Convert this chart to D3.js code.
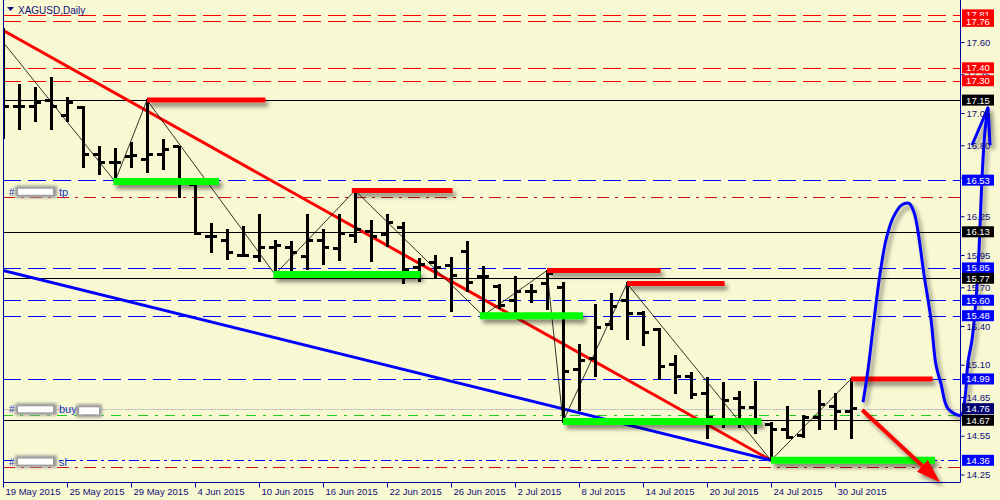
<!DOCTYPE html>
<html><head><meta charset="utf-8">
<script src="https://cdn.jsdelivr.net/npm/d3@7"></script>
<style>html,body{margin:0;padding:0;background:#f8f8d2;}svg{display:block;}</style>
</head><body>
<svg id="c" width="1000" height="500"></svg>
<script>
// ---------------- DATA ----------------
const dates = ["19 May 2015","20 May 2015","21 May 2015","22 May 2015","25 May 2015","26 May 2015","27 May 2015","28 May 2015","29 May 2015",
"1 Jun 2015","2 Jun 2015","3 Jun 2015","4 Jun 2015","5 Jun 2015","8 Jun 2015","9 Jun 2015","10 Jun 2015","11 Jun 2015","12 Jun 2015","15 Jun 2015","16 Jun 2015","17 Jun 2015","18 Jun 2015","19 Jun 2015","22 Jun 2015","23 Jun 2015","24 Jun 2015","25 Jun 2015","26 Jun 2015","29 Jun 2015","30 Jun 2015",
"1 Jul 2015","2 Jul 2015","3 Jul 2015","6 Jul 2015","7 Jul 2015","8 Jul 2015","9 Jul 2015","10 Jul 2015","13 Jul 2015","14 Jul 2015","15 Jul 2015","16 Jul 2015","17 Jul 2015","20 Jul 2015","21 Jul 2015","22 Jul 2015","23 Jul 2015","24 Jul 2015","27 Jul 2015","28 Jul 2015","29 Jul 2015","30 Jul 2015","31 Jul 2015"];
const open  = [17.11,17.10,17.10,17.15,17.03,17.09,16.73,16.67,16.71,16.69,16.73,16.79,16.50,16.09,16.06,15.95,15.94,16.01,16.01,15.94,16.06,16.00,16.10,16.13,16.11,16.16,15.85,15.89,15.87,15.98,15.78,15.71,15.60,15.67,15.73,15.70,15.06,15.15,15.41,15.60,15.50,15.37,15.10,15.01,14.88,14.66,14.84,14.77,14.64,14.60,14.55,14.69,14.78,14.74];
const high  = [17.70,17.27,17.24,17.32,17.17,17.10,16.79,16.77,16.82,17.15,16.84,16.79,16.51,16.19,16.14,16.17,16.26,16.06,16.05,16.26,16.14,16.26,16.45,16.21,16.26,16.20,15.92,15.94,15.93,16.05,15.86,15.72,15.78,15.72,15.83,15.73,15.25,15.56,15.65,15.73,15.51,15.38,15.17,15.04,15.00,14.96,14.89,14.97,14.65,14.77,14.70,14.90,14.87,14.99];
const low   = [16.86,16.93,16.99,16.93,16.99,16.63,16.58,16.52,16.63,16.59,16.62,16.40,16.11,15.97,15.92,15.94,15.90,15.80,15.83,15.84,15.88,15.91,16.05,15.90,16.02,15.73,15.75,15.77,15.52,15.67,15.48,15.54,15.48,15.59,15.53,14.66,14.75,15.01,15.38,15.30,15.25,14.99,14.88,14.84,14.53,14.62,14.62,14.57,14.36,14.53,14.54,14.60,14.60,14.53];
const close = [17.10,17.10,17.13,17.10,17.13,16.73,16.67,16.67,16.72,16.73,16.77,16.51,16.12,16.09,15.97,15.95,16.01,16.02,15.97,16.06,16.01,16.12,16.15,16.09,16.20,15.84,15.88,15.85,15.79,15.74,15.78,15.56,15.67,15.67,15.81,15.05,15.13,15.39,15.55,15.50,15.35,15.09,15.01,14.87,14.69,14.82,14.77,14.65,14.60,14.54,14.69,14.79,14.74,14.76];

const priceTicks = [17.60,17.35,17.05,16.80,16.55,16.25,15.95,15.70,15.40,15.10,14.85,14.55,14.25];
const dateTickIdx = [0,4,8,12,16,20,24,28,32,36,40,44,48,52];

const redDashLevels  = [17.81,17.76,17.40,17.30];
const blackLevels    = [17.15,16.13,15.77,14.67];
const blueDashLevels = [16.53,15.85,15.60,15.48,14.99];
const bidLevel = 14.76;
const slLevel = 14.36;
const tpLevel = 16.40;
const buyLevel = 14.71;
const stopRedLevel = 14.31;

// zigzag: [bar index, price]
const zigIdx   = [0,7,9,17,22,30,34,35,39,48,53];
const zigPrice = [17.60,16.52,17.15,15.80,16.45,15.48,15.83,14.66,15.73,14.36,14.99];

// resistance (red) and support (green) marks: start idx, end idx, price
const resStart = [9,21.8,34,39,53];
const resEnd   = [16.4,28.1,41.1,45.1,58.1];
const resPrice = [17.15,16.45,15.83,15.73,14.99];
const supStart = [6.9,16.9,29.8,35,48];
const supEnd   = [13.5,26.1,36.25,47.4,58.25];
const supPrice = [16.52,15.80,15.48,14.66,14.36];

// trend lines
const redTrendIdx = [0,48], redTrendPrice = [17.69,14.36];
const blueTrendIdx = [0,48], blueTrendPrice = [15.83,14.36];
const arrowIdx = [53.7,58.56], arrowPrice = [14.75,14.19];

// hand-drawn blue scribble
const drawIdx   = [53.75,54.06,54.44,54.81,55.19,55.63,56.19,56.63,56.94,57.19,57.56,58.0,58.31,58.63,59.06,59.88,60.13,60.31,60.56,60.81,61.0,61.13,61.25,61.38,61.56];
const drawPrice = [14.81,15.06,15.45,15.80,16.07,16.24,16.34,16.35,16.28,16.13,15.80,15.45,15.10,14.95,14.76,14.71,14.85,15.12,15.29,15.60,15.99,16.38,16.69,16.92,17.09];
const tipIdx   = [60.56,61.56,61.69];
const tipPrice = [16.80,17.09,16.80];

// ---------------- DRAW ----------------
const svg = d3.select("#c");
const W = 1000, H = 500;
const NAVY = "#10107a";
const FONT = "Liberation Sans, Arial, sans-serif";
const xs = d3.scaleLinear().domain([0,53]).range([3,851]);
const ys = d3.scaleLinear().domain([14.25,17.60]).range([474.5,42]);
const plotR = 960, plotB = 482, plotL = 3;

svg.append("rect").attr("width",W).attr("height",H).attr("fill","#f8f8d2");

const defs = svg.append("defs");
const f = defs.append("filter").attr("id","sh").attr("filterUnits","userSpaceOnUse")
  .attr("x",0).attr("y",0).attr("width",W).attr("height",H);
f.append("feDropShadow").attr("dx",3).attr("dy",4).attr("stdDeviation",2)
  .attr("flood-color","#000").attr("flood-opacity",0.45);
const fb = defs.append("filter").attr("id","blur").attr("filterUnits","userSpaceOnUse")
  .attr("x",0).attr("y",0).attr("width",W).attr("height",H);
fb.append("feGaussianBlur").attr("stdDeviation",1.6);

const clip = defs.append("clipPath").attr("id","plot");
clip.append("rect").attr("x",plotL).attr("y",0).attr("width",plotR-plotL).attr("height",plotB);

const gp = svg.append("g").attr("clip-path","url(#plot)");

function hline(p, color, dash, w){
  gp.append("line").attr("x1",plotL).attr("x2",plotR).attr("y1",Math.round(ys(p))+0.5).attr("y2",Math.round(ys(p))+0.5)
    .attr("stroke",color).attr("stroke-width",w||1).attr("stroke-dasharray",dash||null);
}
redDashLevels.forEach(p=>hline(p,"#ff0000","18,7"));
blueDashLevels.forEach(p=>hline(p,"#0000ff","18,7"));
blackLevels.forEach(p=>hline(p,"#000000"));
hline(bidLevel,"#c8c8c8");
hline(tpLevel,"#d01010","12,6,3,6");
hline(buyLevel,"#22cc22","10,7,3,7");
hline(slLevel,"#0000ff","10,4,3,4");
hline(stopRedLevel,"#d01010","12,6,3,6");

// support / resistance marks with shadow
const gs = svg.append("g").attr("filter","url(#sh)");
supPrice.forEach((p,i)=>{
  gs.append("line").attr("x1",xs(supStart[i])).attr("x2",xs(supEnd[i])).attr("y1",ys(p)).attr("y2",ys(p))
    .attr("stroke","#00ff00").attr("stroke-width",7);
});
resPrice.forEach((p,i)=>{
  gs.append("line").attr("x1",xs(resStart[i])).attr("x2",xs(resEnd[i])).attr("y1",ys(p)).attr("y2",ys(p))
    .attr("stroke","#ff0000").attr("stroke-width",5);
});

// trend lines
const gt = gp.append("g");
gt.append("line").attr("x1",xs(redTrendIdx[0])).attr("y1",ys(redTrendPrice[0])).attr("x2",xs(redTrendIdx[1])).attr("y2",ys(redTrendPrice[1]))
  .attr("stroke","#ff0000").attr("stroke-width",3);
gt.append("line").attr("x1",xs(blueTrendIdx[0])).attr("y1",ys(blueTrendPrice[0])).attr("x2",xs(blueTrendIdx[1])).attr("y2",ys(blueTrendPrice[1]))
  .attr("stroke","#0000ff").attr("stroke-width",3);

// zigzag
const zz = zigIdx.map((d,i)=>[xs(d),ys(zigPrice[i])]);
gp.append("path").attr("d",d3.line()(zz)).attr("fill","none").attr("stroke","#000").attr("stroke-width",0.8);

// red arrow
const ga = svg.append("g").attr("filter","url(#sh)");
const ax0 = xs(arrowIdx[0]), ay0 = ys(arrowPrice[0]), ax1 = xs(arrowIdx[1]), ay1 = ys(arrowPrice[1]);
const L = Math.hypot(ax1-ax0, ay1-ay0), ux=(ax1-ax0)/L, uy=(ay1-ay0)/L;
const bx = ax1-ux*24, by = ay1-uy*24;
ga.append("line").attr("x1",ax0).attr("y1",ay0).attr("x2",bx).attr("y2",by).attr("stroke","#ff0000").attr("stroke-width",4);
ga.append("path").attr("d",`M${ax1},${ay1}L${bx-uy*8},${by+ux*8}L${bx+uy*8},${by-ux*8}Z`).attr("fill","#ff0000");

// hand-drawn scribble
const gd = svg.append("g").attr("filter","url(#sh)");
gd.append("path").attr("d",d3.line().curve(d3.curveCatmullRom)(drawIdx.map((d,i)=>[xs(d),ys(drawPrice[i])])))
  .attr("fill","none").attr("stroke","#0000ff").attr("stroke-width",3).attr("stroke-linejoin","round");
gd.append("path").attr("d",d3.line()(tipIdx.map((d,i)=>[xs(d),ys(tipPrice[i])])))
  .attr("fill","none").attr("stroke","#0000ff").attr("stroke-width",3).attr("stroke-linejoin","round");

// OHLC bars
const gb = gp.append("g").attr("stroke","#000").attr("shape-rendering","crispEdges");
dates.forEach((d,i)=>{
  const x = xs(i);
  gb.append("line").attr("x1",x).attr("x2",x).attr("y1",ys(high[i])-1).attr("y2",ys(low[i])+1).attr("stroke-width",3);
  gb.append("line").attr("x1",x-6).attr("x2",x).attr("y1",ys(open[i])).attr("y2",ys(open[i])).attr("stroke-width",3);
  gb.append("line").attr("x1",x).attr("x2",x+6).attr("y1",ys(close[i])).attr("y2",ys(close[i])).attr("stroke-width",3);
});

// order labels (redacted)
function orderLabel(p, txt, second){
  const y = ys(p);
  svg.append("text").attr("x",9).attr("y",y+4).attr("font-family",FONT).attr("font-size",10).attr("fill","#2030c0").text("#");
  svg.append("rect").attr("x",15).attr("y",y-6).attr("width",42).attr("height",12).attr("rx",2).attr("fill","#999").attr("filter","url(#blur)");
  svg.append("rect").attr("x",18).attr("y",y-3).attr("width",35).attr("height",6).attr("fill","#fff");
  const t = svg.append("text").attr("x",59).attr("y",y+4).attr("font-family",FONT).attr("font-size",11).attr("fill","#1030c0").text(txt);
  if(second){
    svg.append("rect").attr("x",76).attr("y",y-5).attr("width",26).attr("height",13).attr("rx",2).attr("fill","#999").attr("filter","url(#blur)");
    svg.append("rect").attr("x",79).attr("y",y-2).attr("width",20).attr("height",7).attr("fill","#fff");
  }
}
orderLabel(16.44,"tp",false);
orderLabel(14.755,"buy",true);
orderLabel(14.35,"sl",false);

// frame
svg.append("line").attr("x1",plotL+0.5).attr("x2",plotL+0.5).attr("y1",0).attr("y2",plotB).attr("stroke","#0000a0");
svg.append("line").attr("x1",plotR+0.5).attr("x2",plotR+0.5).attr("y1",0).attr("y2",plotB+0.5).attr("stroke","#0000a0");
svg.append("line").attr("x1",plotL).attr("x2",plotR).attr("y1",plotB+0.5).attr("y2",plotB+0.5).attr("stroke","#0000a0");

// price axis
const yAxis = d3.axisRight(ys).tickValues(priceTicks).tickSize(4).tickPadding(2).tickFormat(d=>d.toFixed(2));
const gy = svg.append("g").attr("transform",`translate(${plotR+0.5},0)`).call(yAxis);
gy.select(".domain").remove();
gy.selectAll(".tick line").attr("stroke","#0000a0");
gy.selectAll(".tick text").attr("fill",NAVY).attr("font-family",FONT).attr("font-size",9.5);

// time axis
const xAxis = d3.axisBottom(xs).tickValues(dateTickIdx).tickSize(5).tickPadding(1).tickFormat(i=>dates[i]);
const gx = svg.append("g").attr("transform",`translate(0,${plotB+0.5})`).call(xAxis);
gx.select(".domain").remove();
gx.selectAll(".tick line").attr("stroke","#0000a0");
gx.selectAll(".tick text").attr("fill",NAVY).attr("font-family",FONT).attr("font-size",9.5).attr("text-anchor","start").attr("x",2);

// price label boxes
function box(p, fill){
  const y = ys(p);
  svg.append("rect").attr("x",plotR+2).attr("y",y-5.5).attr("width",32).attr("height",11).attr("fill",fill);
  svg.append("text").attr("x",plotR+18).attr("y",y+3.5).attr("text-anchor","middle").attr("font-family",FONT)
    .attr("font-size",9.5).attr("fill","#fff").text(p.toFixed(2));
}
redDashLevels.forEach(p=>box(p,"#ff0000"));
blueDashLevels.forEach(p=>box(p,"#0000ff"));
blackLevels.forEach(p=>box(p,"#000000"));
box(bidLevel,"#000070");
box(slLevel,"#0000ff");

// title
svg.append("path").attr("d","M7,7L14,7L10.5,11Z").attr("fill",NAVY);
svg.append("text").attr("x",18).attr("y",14).attr("font-family",FONT).attr("font-size",10).attr("fill",NAVY).text("XAGUSD,Daily");
</script>
</body></html>
